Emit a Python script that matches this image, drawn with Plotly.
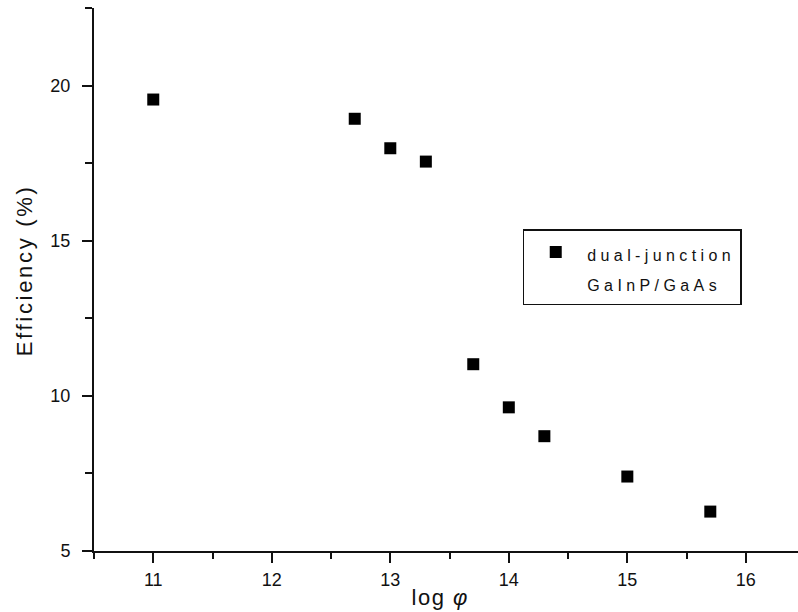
import plotly.graph_objects as go

# Efficiency of dual-junction GaInP/GaAs cells versus log of particle fluence
log_phi = [11.0, 12.7, 13.0, 13.3, 13.7, 14.0, 14.3, 15.0, 15.7]
efficiency = [19.55, 18.93, 17.98, 17.55, 11.02, 9.63, 8.70, 7.40, 6.27]

x_ticks = [11, 12, 13, 14, 15, 16]
y_ticks = [5, 10, 15, 20]

FONT = "Liberation Sans, Arial, sans-serif"
INK = "#111111"

fig = go.Figure()
fig.add_trace(go.Scatter(
    x=log_phi,
    y=efficiency,
    mode="markers",
    marker=dict(symbol="square", size=12, color="black", line=dict(width=0)),
    name='<span style="font-size:16px;letter-spacing:4.4px">dual-junction</span><br>'
         '<span style="font-size:16px;letter-spacing:4.4px">GaInP/GaAs</span>',
    showlegend=True,
))

axis_common = dict(
    showgrid=False,
    zeroline=False,
    showline=True,
    linecolor=INK,
    linewidth=2,
    ticks="outside",
    ticklen=10,
    tickwidth=2,
    tickcolor=INK,
    tickfont=dict(family=FONT, size=18, color=INK),
    mirror=False,
)

fig.update_xaxes(
    range=[10.5, 16.44],
    tickmode="array",
    tickvals=x_ticks,
    ticktext=[str(v) for v in x_ticks],
    minor=dict(dtick=0.5, tick0=10.5, ticks="outside", ticklen=6, tickwidth=2, tickcolor=INK),
    ticklabelstandoff=1,
    title=dict(
        text='<span style="letter-spacing:1.5px">log <i><span style="letter-spacing:13px">φ</span></i></span>',
        font=dict(family=FONT, size=22, color=INK),
        standoff=1,
    ),
    **axis_common,
)
fig.update_yaxes(
    range=[5, 22.5],
    tickmode="array",
    tickvals=y_ticks,
    ticktext=[str(v) for v in y_ticks],
    minor=dict(dtick=2.5, tick0=5, ticks="outside", ticklen=7, tickwidth=2, tickcolor=INK),
    ticklabelstandoff=8,
    **axis_common,
)

# Vertical axis title, placed beside the tick labels
fig.add_annotation(
    text='<span style="letter-spacing:2.7px">Efficiency (%)</span>',
    xref="paper", yref="paper",
    x=-0.0994, y=0.517,
    xanchor="center", yanchor="middle",
    textangle=-90,
    showarrow=False,
    font=dict(family=FONT, size=22, color=INK),
)

fig.update_layout(
    width=798,
    height=612,
    margin=dict(l=94, r=0, t=8, b=61),
    paper_bgcolor="white",
    plot_bgcolor="white",
    font=dict(family=FONT, color=INK),
    legend=dict(
        x=0.609,
        y=0.593,
        xanchor="left",
        yanchor="top",
        bordercolor=INK,
        borderwidth=1.5,
        bgcolor="white",
        font=dict(family=FONT, size=23, color=INK),
        valign="top",
        itemwidth=53,
    ),
)

fig.write_html("out.html")
